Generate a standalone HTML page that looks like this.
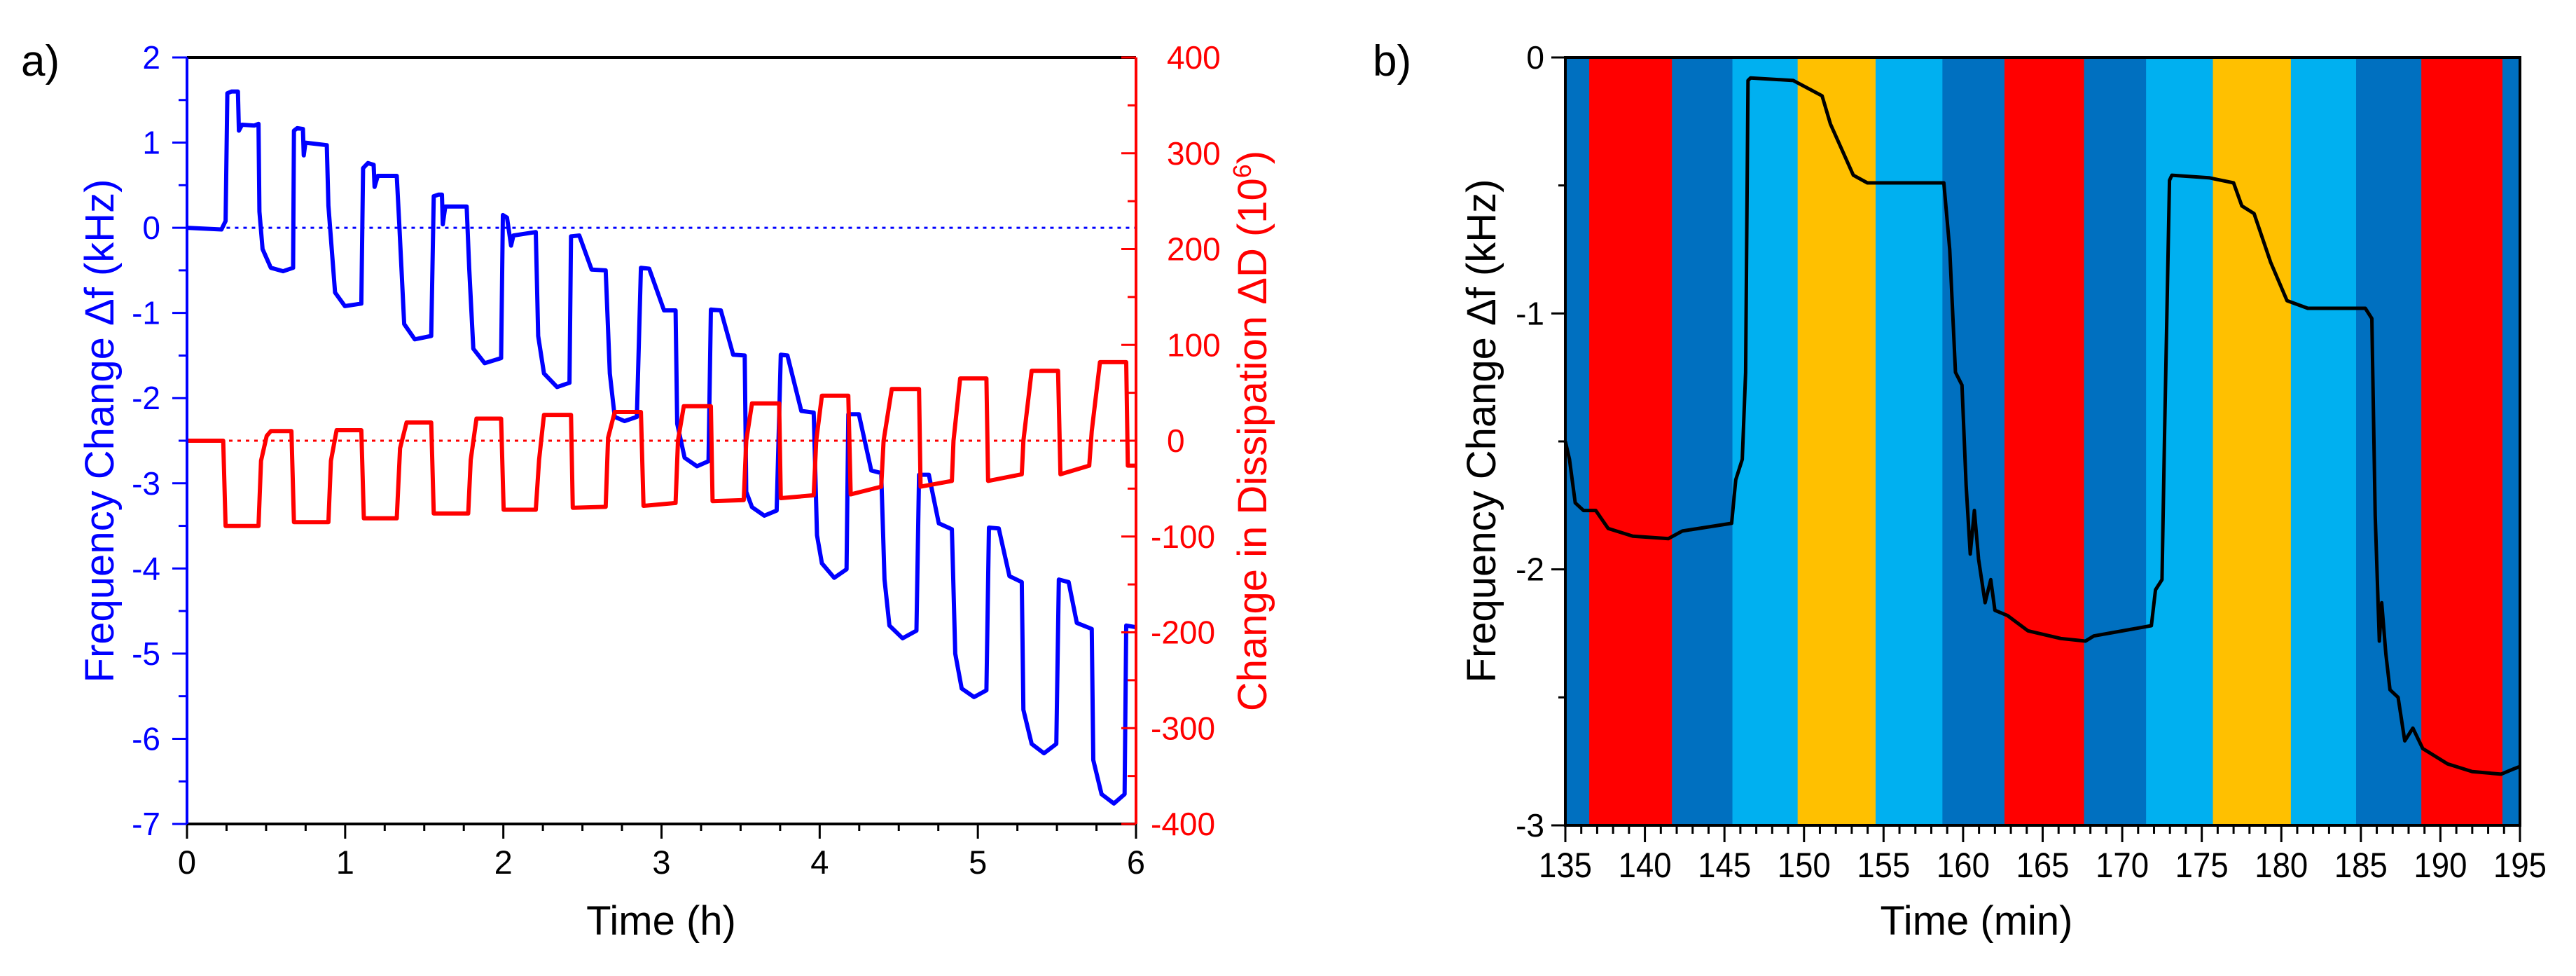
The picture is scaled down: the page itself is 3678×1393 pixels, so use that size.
<!DOCTYPE html>
<html><head><meta charset="utf-8"><style>
html,body{margin:0;padding:0;background:#fff;width:3678px;height:1393px;overflow:hidden}
svg{display:block;font-family:"Liberation Sans",Arial,sans-serif}
</style></head><body>
<svg id="fig" width="3678" height="1393" viewBox="0 0 3678 1393"></svg>
<script>
// ---------- Panel a data ----------
const aTimeTicks=[0,1,2,3,4,5,6];
const aFreqTicks=[2,1,0,-1,-2,-3,-4,-5,-6,-7];
const aDissTicks=[400,300,200,100,0,-100,-200,-300,-400];
const blueT=[0,0.218,0.244,0.255,0.281,0.322,0.328,0.348,0.426,0.452,0.458,0.478,0.530,0.608,0.671,0.676,0.697,0.733,0.738,0.749,0.884,0.894,0.936,0.998,1.102,1.113,1.144,1.180,1.186,1.206,1.326,1.342,1.373,1.440,1.544,1.560,1.591,1.612,1.617,1.633,1.768,1.784,1.810,1.882,1.986,1.997,2.023,2.049,2.064,2.205,2.220,2.257,2.340,2.418,2.428,2.480,2.558,2.647,2.673,2.704,2.766,2.844,2.870,2.922,3.016,3.089,3.099,3.146,3.224,3.297,3.312,3.375,3.453,3.526,3.536,3.572,3.650,3.728,3.754,3.796,3.884,3.962,3.983,4.014,4.092,4.170,4.181,4.248,4.326,4.389,4.410,4.441,4.524,4.612,4.628,4.690,4.753,4.836,4.857,4.898,4.976,5.054,5.070,5.132,5.200,5.278,5.288,5.340,5.418,5.496,5.512,5.574,5.626,5.720,5.730,5.782,5.860,5.928,5.938,6.0];
const blueF=[0,-0.02,0.08,1.58,1.6,1.6,1.14,1.21,1.2,1.22,0.19,-0.25,-0.47,-0.51,-0.47,1.14,1.17,1.16,0.85,1.0,0.97,0.26,-0.76,-0.92,-0.89,0.70,0.76,0.74,0.48,0.61,0.61,0.04,-1.13,-1.31,-1.27,0.37,0.39,0.39,0.04,0.25,0.25,-0.47,-1.42,-1.59,-1.53,0.15,0.12,-0.21,-0.09,-0.05,-1.27,-1.71,-1.87,-1.82,-0.1,-0.09,-0.49,-0.5,-1.71,-2.22,-2.27,-2.22,-0.47,-0.48,-0.97,-0.97,-2.30,-2.70,-2.80,-2.74,-0.96,-0.97,-1.49,-1.5,-3.1,-3.28,-3.38,-3.32,-1.49,-1.5,-2.15,-2.17,-3.61,-3.94,-4.11,-4.01,-2.19,-2.19,-2.85,-2.88,-4.13,-4.67,-4.82,-4.73,-2.9,-2.9,-3.47,-3.54,-5.0,-5.41,-5.51,-5.43,-3.52,-3.53,-4.09,-4.16,-5.66,-6.06,-6.17,-6.06,-4.13,-4.16,-4.64,-4.71,-6.25,-6.65,-6.76,-6.65,-4.67,-4.69];
const redT=[0,0.229,0.244,0.452,0.468,0.504,0.530,0.660,0.676,0.894,0.910,0.946,1.102,1.118,1.326,1.347,1.388,1.544,1.560,1.778,1.794,1.830,1.986,2.002,2.205,2.226,2.257,2.428,2.439,2.647,2.662,2.704,2.870,2.886,3.089,3.104,3.141,3.312,3.323,3.520,3.536,3.572,3.744,3.754,3.962,3.978,4.014,4.181,4.196,4.389,4.404,4.456,4.628,4.638,4.836,4.846,4.888,5.054,5.065,5.278,5.288,5.340,5.507,5.522,5.704,5.720,5.772,5.938,5.948,6.0];
const redD=[0,0,-89,-89,-21,5,10,10,-85,-85,-21,11,11,-81,-81,-8,19,19,-76,-76,-20,23,23,-72,-72,-20,27,27,-70,-69,3,30,30,-68,-65,0,36,36,-63,-62,0,39,39,-60,-57,0,47,47,-56,-48,0,54,54,-48,-42,0,65,65,-42,-35,0,73,73,-35,-26,10,82,82,-26,-26];
// ---------- Panel b data ----------
const bTimeTicks=[135,140,145,150,155,160,165,170,175,180,185,190,195];
const bFreqTicks=[0,-1,-2,-3];
const bandStart=[135,136.5,141.7,145.5,149.6,154.5,158.7,162.6,167.6,171.5,175.7,180.6,184.7,188.8,193.9];
const bandEnd=[136.5,141.7,145.5,149.6,154.5,158.7,162.6,167.6,171.5,175.7,180.6,184.7,188.8,193.9,195];
const bandColor=["#0070C0","#FF0000","#0070C0","#00B0F0","#FFC000","#00B0F0","#0070C0","#FF0000","#0070C0","#00B0F0","#FFC000","#00B0F0","#0070C0","#FF0000","#0070C0"];
const blackT=[135,135.26,135.62,136.14,136.91,137.69,139.24,141.47,142.35,145.45,145.71,146.12,146.33,146.48,146.64,149.33,151.14,151.66,153.1,153.98,158.79,159.16,159.52,159.93,160.19,160.45,160.71,160.97,161.38,161.74,162.0,162.78,164.07,166.14,167.69,168.21,171.83,172.09,172.5,172.66,172.97,173.12,175.45,177.0,177.52,178.29,179.33,180.36,181.66,185.28,185.69,185.9,186.16,186.31,186.57,186.83,187.34,187.76,188.27,188.89,190.45,192.0,193.81,194.59,195];
const blackF=[-1.50,-1.57,-1.74,-1.77,-1.77,-1.84,-1.87,-1.88,-1.85,-1.82,-1.65,-1.57,-1.23,-0.09,-0.08,-0.09,-0.15,-0.26,-0.46,-0.49,-0.49,-0.75,-1.23,-1.28,-1.67,-1.94,-1.77,-1.96,-2.13,-2.04,-2.16,-2.18,-2.24,-2.27,-2.28,-2.26,-2.22,-2.08,-2.04,-1.48,-0.48,-0.46,-0.47,-0.49,-0.58,-0.61,-0.80,-0.95,-0.98,-0.98,-1.02,-1.79,-2.28,-2.13,-2.33,-2.47,-2.50,-2.67,-2.62,-2.70,-2.76,-2.79,-2.80,-2.78,-2.77];

const NS="http://www.w3.org/2000/svg";
const svg=document.getElementById('fig');
function mk(tag,attrs,parent){const e=document.createElementNS(NS,tag);for(const k in attrs)e.setAttribute(k,attrs[k]);(parent||svg).appendChild(e);return e;}
function txt(s,attrs,parent){const e=mk('text',attrs,parent);e.textContent=s;return e;}

// axis functions
const aL=267,aR=1622,aT=82,aB=1176;
const ax=t=>aL+(t-0)/6*(aR-aL);
const ayF=f=>aT+(2-f)/9*(aB-aT);
const ayD=d=>aT+(400-d)/800*(aB-aT);
const bL=2235,bR=3598,bT=82,bB=1178;
const bx=t=>bL+(t-135)/60*(bR-bL);
const by=f=>bT+(0-f)/3*(bB-bT);

// ===== Panel a =====
const ga=mk('g',{});


let e;
e=txt('a)',{x:30,y:108,'font-size':62,fill:'#000'},ga);

// dotted zero lines
e=mk('line',{x1:ax(0.25),x2:aR,y1:ayF(0),y2:ayF(0),stroke:'#0000ff','stroke-width':3,'stroke-dasharray':'5,7'},ga);

e=mk('line',{x1:aL,x2:aR,y1:ayD(0),y2:ayD(0),stroke:'#ff0000','stroke-width':3,'stroke-dasharray':'5,7'},ga);

// series
let p='';for(let i=0;i<blueT.length;i++)p+=(i?'L':'M')+ax(blueT[i]).toFixed(1)+' '+ayF(blueF[i]).toFixed(1);
e=mk('path',{d:p,fill:'none',stroke:'#0000ff','stroke-width':6,'stroke-linejoin':'round'},ga);

p='';for(let i=0;i<redT.length;i++)p+=(i?'L':'M')+ax(redT[i]).toFixed(1)+' '+ayD(redD[i]).toFixed(1);
e=mk('path',{d:p,fill:'none',stroke:'#ff0000','stroke-width':6,'stroke-linejoin':'round'},ga);

// axes
e=mk('line',{x1:aL,x2:aR,y1:aT,y2:aT,stroke:'#000','stroke-width':4},ga);

e=mk('line',{x1:aL,x2:aR,y1:aB,y2:aB,stroke:'#000','stroke-width':4},ga);

e=mk('line',{x1:aL,x2:aL,y1:aT,y2:aB,stroke:'#0000ff','stroke-width':4},ga);

e=mk('line',{x1:aR,x2:aR,y1:aT,y2:aB,stroke:'#ff0000','stroke-width':4},ga);

for(let t=0;t<=6.001;t+=0.25){const maj=Math.abs(t-Math.round(t))<1e-6;
 e=mk('line',{x1:ax(t),x2:ax(t),y1:aB,y2:aB+(maj?21:10),stroke:'#000','stroke-width':3},ga);
 }
aTimeTicks.forEach(t=>{e=txt(String(t),{x:ax(t),y:1247,'font-size':47,'text-anchor':'middle',fill:'#000'},ga);
 });
for(let f=2;f>=-7;f-=0.5){const maj=Number.isInteger(f);
 e=mk('line',{x1:aL-(maj?21:12),x2:aL,y1:ayF(f),y2:ayF(f),stroke:'#0000ff','stroke-width':3},ga);
 }
aFreqTicks.forEach(f=>{e=txt(String(f),{x:aL-38,y:ayF(f)+16,'font-size':46,'text-anchor':'end',fill:'#0000ff'},ga);
 });
for(let d=400;d>=-400;d-=50){const maj=d%100===0;
 e=mk('line',{x1:aR-(maj?21:12),x2:aR,y1:ayD(d),y2:ayD(d),stroke:'#ff0000','stroke-width':3},ga);
 }
aDissTicks.forEach(d=>{e=txt(String(d),{x:d<0?1643:1666,y:ayD(d)+16,'font-size':46,'text-anchor':'start',fill:'#ff0000'},ga);
 });
e=txt('Time (h)',{x:944,y:1334,'font-size':58,'text-anchor':'middle',fill:'#000'},ga);

e=txt('Frequency Change \u0394f (kHz)',{x:0,y:0,'font-size':58,'text-anchor':'middle',fill:'#0000ff',transform:'translate(162,615) rotate(-90)'},ga);

e=mk('text',{x:0,y:0,'font-size':58,'text-anchor':'middle',fill:'#ff0000',transform:'translate(1808,615) rotate(-90)'},ga);

e.appendChild(document.createTextNode('Change in Dissipation \u0394D (10'));
const sup=mk('tspan',{'font-size':36,dy:-22},e);sup.textContent='6';
const cl=mk('tspan',{dy:22},e);cl.textContent=')';

// ===== Panel b =====
const gb=mk('g',{});


e=txt('b)',{x:1960,y:108,'font-size':62,fill:'#000'},gb);

for(let i=0;i<bandStart.length;i++){
 e=mk('rect',{x:bx(bandStart[i]),y:bT,width:bx(bandEnd[i])-bx(bandStart[i])+0.5,height:bB-bT,fill:bandColor[i]},gb);
 }
p='';for(let i=0;i<blackT.length;i++)p+=(i?'L':'M')+bx(blackT[i]).toFixed(1)+' '+by(blackF[i]).toFixed(1);
e=mk('path',{d:p,fill:'none',stroke:'#000','stroke-width':5,'stroke-linejoin':'round'},gb);

e=mk('rect',{x:bL,y:bT,width:bR-bL,height:bB-bT,fill:'none',stroke:'#000','stroke-width':4},gb);

for(let t=135;t<=195;t++){const maj=t%5===0;
 e=mk('line',{x1:bx(t),x2:bx(t),y1:bB,y2:bB+(maj?24:12),stroke:'#000','stroke-width':3},gb);
 }
bTimeTicks.forEach(t=>{e=txt(String(t),{x:bx(t),y:1252,'font-size':50,'text-anchor':'middle',fill:'#000',textLength:76,lengthAdjust:'spacingAndGlyphs'},gb);
 });
for(let f=0;f>=-3;f-=0.5){const maj=Number.isInteger(f);
 e=mk('line',{x1:bL-(maj?20:10),x2:bL,y1:by(f),y2:by(f),stroke:'#000','stroke-width':3},gb);
 }
bFreqTicks.forEach(f=>{e=txt(String(f),{x:bL-30,y:by(f)+16,'font-size':46,'text-anchor':'end',fill:'#000'},gb);
 });
e=txt('Time (min)',{x:2822,y:1334,'font-size':58,'text-anchor':'middle',fill:'#000'},gb);

e=txt('Frequency Change \u0394f (kHz)',{x:0,y:0,'font-size':58,'text-anchor':'middle',fill:'#000',transform:'translate(2135,615) rotate(-90)'},gb);

</script>
</body></html>
